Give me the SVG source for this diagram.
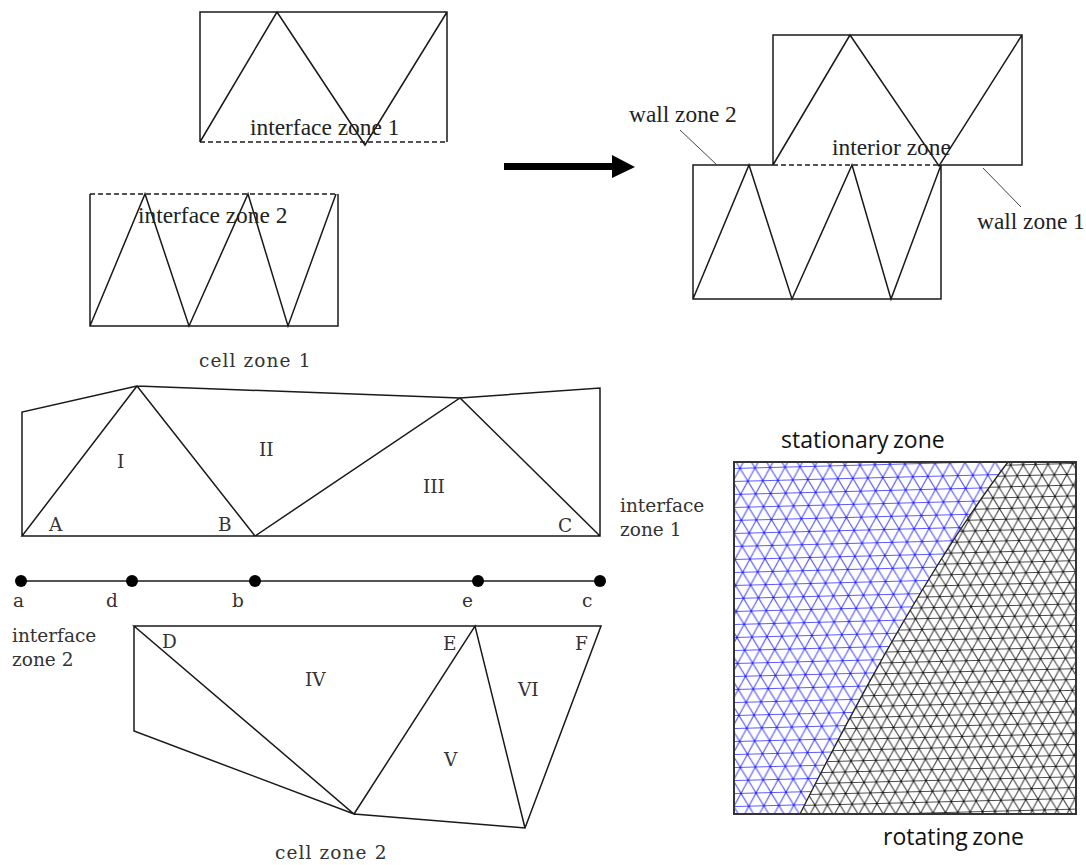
<svg xmlns="http://www.w3.org/2000/svg" width="1086" height="865" viewBox="0 0 1086 865">
<style>
.e{fill:none;stroke:#1a1a1a;stroke-width:1.5}
.w{fill:none;stroke:#444;stroke-width:1}
.d{fill:none;stroke:#1a1a1a;stroke-width:1.4;stroke-dasharray:5 3}
.t{font-family:"Liberation Serif",serif;font-size:23.4px;fill:#222}
.s{font-family:"DejaVu Serif",serif;font-size:18.5px;fill:#333}
.c{font-family:"DejaVu Serif",serif;font-size:18.5px;letter-spacing:1.1px;fill:#333}
.l{font-family:"Open Sans",sans-serif;font-size:23px;fill:#111;word-spacing:-1.5px}
.dot{fill:#000}
</style>
<defs>
<pattern id="mb" width="15" height="26" patternUnits="userSpaceOnUse" patternTransform="rotate(-1.5)">
<path d="M0 6.5H15M0 19.5H15M0 6.5L11.25 26M11.25 0L15 6.5M15 6.5L3.75 26M3.75 0L0 6.5" fill="none" stroke="#5c5cff" stroke-width="1.2"/>
<circle cx="7.5" cy="19.5" r="1.1" fill="#2222ee"/><circle cx="0" cy="6.5" r="1.1" fill="#2222ee"/><circle cx="15" cy="6.5" r="1.1" fill="#2222ee"/>
</pattern>
<pattern id="mk" width="12.4" height="21.6" patternUnits="userSpaceOnUse" patternTransform="rotate(-1.5)">
<path d="M0 5.4H12.4M0 16.2H12.4M0 5.4L9.3 21.6M9.3 0L12.4 5.4M12.4 5.4L3.1 21.6M3.1 0L0 5.4" fill="none" stroke="#4a4a4a" stroke-width="1.15"/>
<circle cx="6.2" cy="16.2" r="1" fill="#111"/><circle cx="0" cy="5.4" r="1" fill="#111"/><circle cx="12.4" cy="5.4" r="1" fill="#111"/>
</pattern>
<clipPath id="c"><rect x="734" y="462" width="342" height="352"/></clipPath>
</defs>
<rect width="1086" height="865" fill="#fff"/>
<g id="top-left-zone-1">
<path class="e" d="M200 142V12H447V142M200 142L277 12L365 145L447 12"/>
<path class="d" d="M200 142H447"/>
<text class="t" x="250" y="135">interface zone 1</text>
</g>
<g id="top-left-zone-2">
<path class="e" d="M90 194V326H338V194M90 326L145 194L189 326L248 194L288 326L336 194"/>
<path class="d" d="M90 194H338"/>
<text class="t" x="138" y="223">interface zone 2</text>
</g>
<g id="merged-upper">
<path class="e" d="M773 165V35H1022V165H941M773 165L850 35L939 166L1022 35"/>
<text class="t" x="832" y="155">interior zone</text>
</g>
<g id="merged-lower">
<path class="e" d="M773 165H693V299H941V165M693 299L749 165L792 299L852 165L891 299L941 165"/>
<path class="d" d="M773 165H941"/>
</g>
<g id="wall-labels">
<text class="t" x="629" y="122">wall zone 2</text>
<path class="w" d="M680 130L717 165"/>
<text class="t" x="977" y="229">wall zone 1</text>
<path class="w" d="M983 168L1021 207"/>
</g>
<g id="cell-zone-1">
<path class="e" d="M22 536V412L137 386L460 398L600 388V536H22L137 386L255 536L460 398L600 536"/>
<text class="c" x="199" y="367">cell zone 1</text>
<text class="s" x="117" y="468">I</text>
<text class="s" x="259" y="456">II</text>
<text class="s" x="423" y="493">III</text>
<text class="s" x="49" y="531">A</text>
<text class="s" x="218" y="531">B</text>
<text class="s" x="558" y="532">C</text>
<text class="s" x="620" y="512">interface</text>
<text class="s" x="620" y="536">zone 1</text>
</g>
<g id="interface-line">
<path class="e" d="M21 581H600"/>
<circle class="dot" cx="21" cy="581" r="6"/>
<circle class="dot" cx="132" cy="581" r="6"/>
<circle class="dot" cx="255" cy="581" r="6"/>
<circle class="dot" cx="478" cy="581" r="6"/>
<circle class="dot" cx="600" cy="581" r="6"/>
<text class="s" x="13" y="607">a</text>
<text class="s" x="106" y="607">d</text>
<text class="s" x="232" y="607">b</text>
<text class="s" x="462" y="607">e</text>
<text class="s" x="582" y="607">c</text>
</g>
<g id="cell-zone-2">
<path class="e" d="M134 626V731L354 814L525 828L601 626H134L354 814L475 626L525 828"/>
<text class="s" x="12" y="642">interface</text>
<text class="s" x="12" y="666">zone 2</text>
<text class="s" x="162" y="648">D</text>
<text class="s" x="443" y="650">E</text>
<text class="s" x="575" y="650">F</text>
<text class="s" x="305" y="686">IV</text>
<text class="s" x="444" y="766">V</text>
<text class="s" x="518" y="696">VI</text>
<text class="c" x="275" y="859">cell zone 2</text>
</g>
<g id="arrow">
<path d="M504 163H612V155L635 167L612 178V170H504Z" fill="#000"/>
</g>
<g id="mesh">
<g clip-path="url(#c)">
<path d="M734 462H1008C960 525 890 635 800 814H734Z" fill="url(#mb)"/>
<path d="M1076 462H1008C960 525 890 635 800 814H1076Z" fill="url(#mk)"/>
</g>
<path d="M1008 462C960 525 890 635 800 814" fill="none" stroke="#222" stroke-width="1.3"/>
<rect x="734" y="462" width="342" height="352" fill="none" stroke="#333" stroke-width="2"/>
<text class="l" x="781" y="448">stationary zone</text>
<text class="l" x="883" y="845">rotating zone</text>
</g>
</svg>
